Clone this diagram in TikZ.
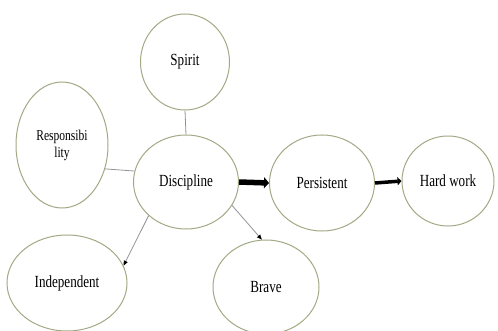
\documentclass[tikz,border=0pt]{standalone}
\usepackage{fontspec}
\setmainfont{Liberation Serif}[FakeStretch=0.77]
\usepackage{tikz}
\usetikzlibrary{shapes.geometric, arrows.meta}
\usepackage{xcolor}
\definecolor{rim}{RGB}{160,170,132}

\begin{document}
\begin{tikzpicture}[x=1pt, y=-1pt,
    bubble/.style={ellipse, draw=rim, line width=1pt, inner sep=0pt, align=center,
        font=\fontsize{17}{18}\selectfont},
    link/.style={draw=gray!85, line width=0.8pt},
    bigarrow/.style={line width=5.5pt, -{Triangle[length=5pt, width=11pt]}},
    midarrow/.style={line width=3.5pt, -{Triangle[length=4pt, width=8pt]}},
    thinarrow/.style={draw=gray!85, line width=0.8pt, -{Triangle[length=5pt, width=4pt, color=black]}}]
    \useasboundingbox (0,0) rectangle (498,331);
    \node[bubble, minimum width=89pt, minimum height=96pt] (spirit) at (185,62) {Spirit};
    \node[bubble, minimum width=92pt, minimum height=126pt, font=\fontsize{15}{17}\selectfont] (resp) at (62,145) {Responsibi\\lity};
    \node[bubble, minimum width=105pt, minimum height=94pt] (disc) at (186,182) {Discipline};
    \node[bubble, minimum width=105pt, minimum height=96pt] (pers) at (322,183) {Persistent};
    \node[bubble, minimum width=92pt, minimum height=90pt] (hard) at (448,181) {Hard work};
    \node[bubble, minimum width=120pt, minimum height=96pt] (indep) at (67,283) {Independent};
    \node[bubble, minimum width=106pt, minimum height=94pt] (brave) at (266,287) {Brave};
    \draw[link] (spirit.south) -- (disc.north);
    \draw[link] (resp.-29.5) -- (disc.168);
    \draw[bigarrow] (disc.east) -- (pers.west);
    \draw[midarrow] (pers.east) -- (hard.west);
    \draw[thinarrow] (disc.222) -- (indep.17);
    \draw[thinarrow] (disc.-27) -- (brave.95);
\end{tikzpicture}
\end{document}
